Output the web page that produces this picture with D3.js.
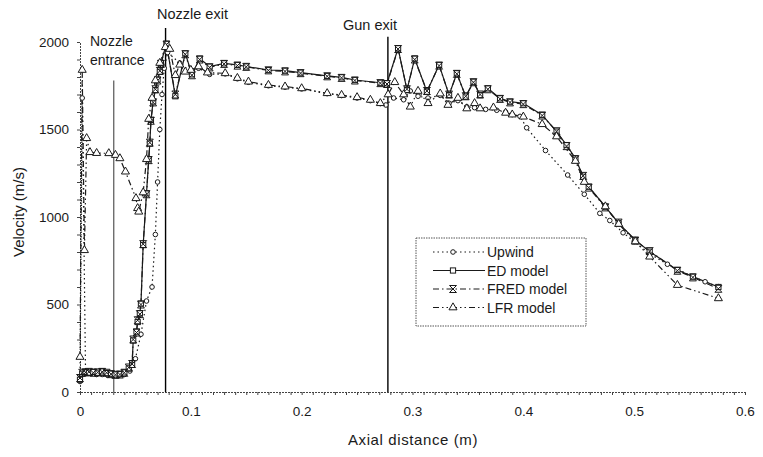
<!DOCTYPE html>
<html>
<head>
<meta charset="utf-8">
<script src="https://cdn.jsdelivr.net/npm/d3@7"></script>
<style>
  body { margin: 0; background: #fff; }
  svg { display: block; font-family: "Liberation Sans", Arial, sans-serif; }
</style>
</head>
<body>
<div id="container"></div>
<script>
// values (axial distance in m, velocity in m/s)
let upwindDist = [0, 0.002, 0.005, 0.01, 0.015, 0.02, 0.025, 0.03, 0.035, 0.04, 0.045, 0.05, 0.055, 0.06, 0.065, 0.068, 0.07, 0.072, 0.074, 0.076, 0.079, 0.09, 0.1, 0.107, 0.117, 0.131, 0.142, 0.152, 0.17, 0.185, 0.2, 0.223, 0.236, 0.25, 0.262, 0.271, 0.276, 0.283, 0.292, 0.298, 0.305, 0.314, 0.325, 0.333, 0.341, 0.349, 0.356, 0.366, 0.376, 0.384, 0.39, 0.397, 0.403, 0.42, 0.44, 0.455, 0.469, 0.478, 0.49, 0.5, 0.514, 0.53, 0.553, 0.564, 0.576];
let upwindVel = [60, 1680, 110, 105, 100, 100, 95, 95, 95, 100, 120, 190, 330, 520, 600, 900, 1200, 1500, 1700, 1850, 1940, 1880, 1830, 1850, 1815, 1818, 1790, 1770, 1750, 1742, 1732, 1705, 1694, 1680, 1665, 1648, 1640, 1680, 1670, 1720, 1690, 1680, 1695, 1650, 1665, 1630, 1625, 1615, 1610, 1600, 1585, 1575, 1510, 1380, 1240, 1130, 1021, 980, 910, 860, 790, 730, 659, 630, 602];

let edDist = [0, 0.002, 0.005, 0.008, 0.012, 0.016, 0.02, 0.024, 0.028, 0.032, 0.036, 0.04, 0.044, 0.047, 0.048, 0.051, 0.052, 0.054, 0.055, 0.057, 0.06, 0.062, 0.063, 0.064, 0.066, 0.068, 0.07, 0.072, 0.073, 0.078, 0.086, 0.095, 0.101, 0.108, 0.117, 0.13, 0.142, 0.15, 0.17, 0.185, 0.199, 0.223, 0.236, 0.248, 0.271, 0.277, 0.287, 0.295, 0.302, 0.313, 0.324, 0.333, 0.34, 0.348, 0.355, 0.361, 0.368, 0.379, 0.388, 0.4, 0.417, 0.43, 0.439, 0.447, 0.454, 0.459, 0.474, 0.486, 0.501, 0.514, 0.539, 0.553, 0.576];
let edVel = [70, 105, 115, 110, 115, 110, 118, 108, 105, 100, 102, 112, 135, 155, 295, 345, 400, 450, 505, 840, 1135, 1330, 1420, 1555, 1660, 1725, 1785, 1830, 1880, 1990, 1690, 1935, 1815, 1905, 1860, 1878, 1869, 1860, 1840, 1836, 1825, 1806, 1798, 1783, 1767, 1764, 1964, 1726, 1906, 1716, 1869, 1697, 1821, 1688, 1773, 1697, 1735, 1678, 1659, 1650, 1583, 1488, 1411, 1335, 1230, 1173, 1059, 964, 869, 802, 697, 659, 600];

let fredDist = [0, 0.002, 0.005, 0.008, 0.012, 0.016, 0.02, 0.024, 0.028, 0.032, 0.036, 0.04, 0.044, 0.047, 0.048, 0.051, 0.052, 0.054, 0.055, 0.057, 0.06, 0.062, 0.063, 0.064, 0.066, 0.068, 0.07, 0.072, 0.073, 0.078, 0.086, 0.095, 0.101, 0.108, 0.117, 0.13, 0.142, 0.15, 0.17, 0.185, 0.199, 0.223, 0.236, 0.248, 0.271, 0.277, 0.287, 0.295, 0.302, 0.313, 0.324, 0.333, 0.34, 0.348, 0.355, 0.361, 0.368, 0.379, 0.388, 0.4, 0.417, 0.43, 0.439, 0.447, 0.454, 0.459, 0.474, 0.486, 0.501, 0.514, 0.539, 0.553, 0.576];
let fredVel = [80, 110, 112, 115, 110, 112, 115, 110, 102, 98, 100, 110, 140, 160, 300, 340, 410, 445, 500, 845, 1130, 1325, 1425, 1550, 1655, 1730, 1780, 1835, 1875, 1985, 1700, 1930, 1810, 1900, 1855, 1875, 1865, 1858, 1838, 1832, 1822, 1804, 1795, 1780, 1765, 1760, 1960, 1730, 1900, 1720, 1865, 1700, 1818, 1690, 1770, 1700, 1730, 1675, 1655, 1645, 1580, 1490, 1405, 1330, 1235, 1168, 1055, 968, 865, 805, 693, 655, 590];

let lfrDist = [0, 0.002, 0.004, 0.006, 0.009, 0.015, 0.026, 0.032, 0.036, 0.041, 0.0505, 0.052, 0.053, 0.057, 0.06, 0.062, 0.065, 0.068, 0.072, 0.077, 0.081, 0.086, 0.09, 0.095, 0.1, 0.107, 0.115, 0.131, 0.142, 0.152, 0.17, 0.185, 0.2, 0.223, 0.236, 0.25, 0.262, 0.271, 0.278, 0.284, 0.292, 0.298, 0.305, 0.314, 0.325, 0.332, 0.341, 0.349, 0.356, 0.361, 0.373, 0.384, 0.39, 0.4, 0.417, 0.43, 0.447, 0.455, 0.474, 0.486, 0.501, 0.514, 0.539, 0.576];
let lfrVel = [200, 1840, 810, 1450, 1370, 1365, 1364, 1354, 1335, 1259, 1107, 1050, 1030, 1140, 1330, 1560, 1680, 1780, 1880, 1970, 1960, 1810, 1870, 1830, 1840, 1860, 1825, 1821, 1794, 1773, 1754, 1745, 1735, 1707, 1697, 1684, 1669, 1650, 1700, 1770, 1700, 1630, 1720, 1650, 1705, 1640, 1680, 1620, 1650, 1620, 1625, 1595, 1585, 1573, 1530, 1460, 1320, 1200, 1060, 960, 860, 773, 611, 535];

let seriesNames = ["Upwind", "ED model", "FRED model", "LFR model"];
let xTicks = [0, 0.1, 0.2, 0.3, 0.4, 0.5, 0.6];
let yTicks = [0, 500, 1000, 1500, 2000];
let markerNames = ["Nozzle entrance", "Nozzle exit", "Gun exit"];
let markerDist = [0.0305, 0.0772, 0.2778];
let markerTop = [1780, 2080, 2030];

let w = 763;
let h = 457;
let viz = d3.select("#container")
  .append("svg")
    .attr("width", w)
    .attr("height", h)
;

let xScale = d3.scaleLinear().domain([0, 0.6]).range([80, 745]);
let yScale = d3.scaleLinear().domain([0, 2000]).range([392, 42]);

// axes: dotted looking scanned lines, ticks outside
let ink = "#1a1a1a";

let xAxis = d3.axisBottom(xScale)
  .tickValues(d3.range(0, 61).map(function(i){ return i / 100; }))
  .tickSize(3)
  .tickFormat(function(d){
    let label = xTicks.find(function(t){ return Math.abs(t - d) < 1e-9; });
    return label === undefined ? "" : d3.format("")(+label.toFixed(1));
  });
let xAxisGroup = viz.append("g")
    .attr("transform", "translate(0," + yScale(0) + ")")
    .call(xAxis);
xAxisGroup.select(".domain").attr("stroke", "#444").attr("stroke-dasharray", "2,1");
xAxisGroup.selectAll(".tick line").attr("stroke", "#444");
xAxisGroup.selectAll(".tick text")
  .attr("dy", "1.3em")
  .attr("font-size", 13.5)
  .attr("fill", ink)
  .attr("font-family", "Liberation Sans, Arial, sans-serif");

let yAxis = d3.axisLeft(yScale)
  .tickValues(d3.range(0, 2001, 100))
  .tickSize(3)
  .tickFormat(function(d){ return yTicks.indexOf(d) >= 0 ? d : ""; });
let yAxisGroup = viz.append("g")
    .attr("transform", "translate(" + xScale(0) + ",0)")
    .call(yAxis);
yAxisGroup.select(".domain").attr("stroke", "#444").attr("stroke-dasharray", "2,1");
yAxisGroup.selectAll(".tick line").attr("stroke", "#444");
yAxisGroup.selectAll(".tick text")
  .attr("x", -11)
  .attr("font-size", 13.5)
  .attr("fill", ink)
  .attr("font-family", "Liberation Sans, Arial, sans-serif");

// axis titles
viz.append("text")
  .attr("x", 413)
  .attr("y", 445)
  .attr("text-anchor", "middle")
  .attr("font-size", 15)
  .attr("letter-spacing", 0.6)
  .attr("fill", ink)
  .text("Axial distance (m)");

viz.append("text")
  .attr("transform", "translate(24,212) rotate(-90)")
  .attr("text-anchor", "middle")
  .attr("font-size", 15)
  .attr("fill", ink)
  .text("Velocity (m/s)");

// vertical location markers
viz.selectAll(".loc")
  .data(markerDist)
  .enter()
  .append("line")
    .attr("class", "loc")
    .attr("x1", function(d){ return xScale(d); })
    .attr("x2", function(d){ return xScale(d); })
    .attr("y1", function(d, i){ return yScale(markerTop[i]); })
    .attr("y2", yScale(0))
    .attr("stroke", function(d, i){ return i == 0 ? "#333" : "#000"; })
    .attr("stroke-width", function(d, i){ return i == 0 ? 1 : 1.4; })
;

viz.append("text").attr("x", 90).attr("y", 46).attr("font-size", 14).attr("fill", ink).text("Nozzle");
viz.append("text").attr("x", 90).attr("y", 65).attr("font-size", 14).attr("fill", ink).text("entrance");
viz.append("text").attr("x", 157).attr("y", 19).attr("font-size", 14.5).attr("fill", ink).text("Nozzle exit");
viz.append("text").attr("x", 343).attr("y", 30).attr("font-size", 14.5).attr("fill", ink).text("Gun exit");

// series
function pairs(xs, ys){
  return xs.map(function(x, i){ return { dist: x, vel: ys[i] }; });
}
let allSeries = [
  { name: seriesNames[0], data: pairs(upwindDist, upwindVel), dash: "1.5,3", shape: "circle" },
  { name: seriesNames[1], data: pairs(edDist, edVel), dash: null, shape: "square" },
  { name: seriesNames[2], data: pairs(fredDist, fredVel), dash: "6,3,1.5,3", shape: "cross" },
  { name: seriesNames[3], data: pairs(lfrDist, lfrVel), dash: "6,3,1.5,3,1.5,3", shape: "triangle" }
];

let lineMaker = d3.line()
  .x(function(d){ return xScale(d.dist); })
  .y(function(d){ return yScale(d.vel); })
;

function drawMarker(g, shape){
  if(shape == "circle"){
    g.append("circle").attr("r", 2.3).attr("fill", "#fff").attr("stroke", ink).attr("stroke-width", 1);
  } else if(shape == "square"){
    g.append("rect").attr("x", -2.6).attr("y", -2.6).attr("width", 5.2).attr("height", 5.2)
      .attr("fill", "#fff").attr("stroke", ink).attr("stroke-width", 1);
  } else if(shape == "cross"){
    g.append("path").attr("d", "M-3.5,-3.5L3.5,3.5M3.5,-3.5L-3.5,3.5M-3.5,-3.5L3.5,-3.5M-3.5,3.5L3.5,3.5")
      .attr("fill", "none").attr("stroke", ink).attr("stroke-width", 1);
  } else {
    g.append("path").attr("d", d3.symbol(d3.symbolTriangle, 28)())
      .attr("fill", "#fff").attr("stroke", ink).attr("stroke-width", 1);
  }
}

allSeries.forEach(function(s){
  viz.append("path")
    .datum(s.data)
    .attr("d", lineMaker)
    .attr("fill", "none")
    .attr("stroke", ink)
    .attr("stroke-width", 1.2)
    .attr("stroke-dasharray", s.dash)
  ;
});

allSeries.forEach(function(s){
  viz.append("g").selectAll("g")
    .data(s.data)
    .enter()
    .append("g")
      .attr("transform", function(d){ return "translate(" + xScale(d.dist) + "," + yScale(d.vel) + ")"; })
      .each(function(){ drawMarker(d3.select(this), s.shape); })
  ;
});

// legend
let legend = viz.append("g").attr("transform", "translate(416,238)");
legend.append("rect")
  .attr("width", 170)
  .attr("height", 88)
  .attr("fill", "#fff")
  .attr("stroke", "#555")
  .attr("stroke-dasharray", "1.5,1");

allSeries.forEach(function(s, i){
  let row = legend.append("g").attr("transform", "translate(0," + (14 + i * 18.5) + ")");
  row.append("line")
    .attr("x1", 17).attr("x2", 69)
    .attr("stroke", ink).attr("stroke-width", 1.2)
    .attr("stroke-dasharray", s.dash);
  let m = row.append("g").attr("transform", "translate(37,0)");
  drawMarker(m, s.shape);
  row.append("text")
    .attr("x", 71)
    .attr("y", 5)
    .attr("font-size", 14)
    .attr("fill", ink)
    .text(s.name);
});
</script>
</body>
</html>
